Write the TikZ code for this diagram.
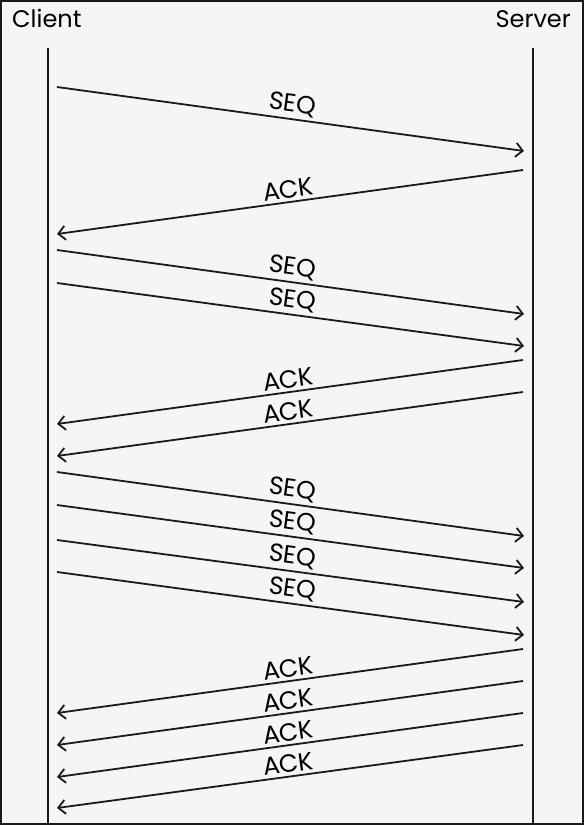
\documentclass[tikz,border=0pt]{standalone}
\usepackage{fontspec}
\setmainfont{Poppins}
\usetikzlibrary{arrows.meta}
\definecolor{paper}{HTML}{F5F5F5}
\definecolor{ink}{HTML}{1A1A1A}

\begin{document}
\begin{tikzpicture}[x=1pt, y=-1pt,
    lifeline/.style={draw=ink, line width=1.3pt},
    msg/.style={draw=ink, line width=1.8pt, -{Straight Barb[length=7pt, width=14pt]}},
    msglabel/.style={above, sloped, midway, inner sep=3pt, font=\fontsize{25}{28}\selectfont}]
    \draw[fill=paper, draw=ink, line width=2pt] (1,1) rectangle (583,824);
    \useasboundingbox (0,0) rectangle (584,825);

    \node[anchor=base west, inner sep=0pt, font=\fontsize{24}{28}\selectfont] (client) at (12,27) {Client};
    \node[anchor=base east, inner sep=0pt, font=\fontsize{24}{28}\selectfont] (server) at (571,27) {Server};

    \coordinate (ctop) at (48,48);
    \coordinate (cbot) at (48,825);
    \coordinate (stop) at (533,48);
    \coordinate (sbot) at (533,825);
    \draw[lifeline] (ctop) -- (cbot);
    \draw[lifeline] (stop) -- (sbot);

    % one segment
    \coordinate (c1) at (57,87);   \coordinate (s1) at (524,151);
    \coordinate (s2) at (523,170); \coordinate (c2) at (57,234);
    \draw[msg] (c1) -- node[msglabel] {SEQ} (s1);
    \draw[msg] (s2) -- node[msglabel] {ACK} (c2);

    % two segments
    \coordinate (c3) at (57,250);  \coordinate (s3) at (524,314);
    \coordinate (c4) at (57,283);  \coordinate (s4) at (524,346);
    \coordinate (s5) at (523,360); \coordinate (c5) at (57,424);
    \coordinate (s6) at (523,392); \coordinate (c6) at (57,456);
    \draw[msg] (c3) -- node[msglabel] {SEQ} (s3);
    \draw[msg] (c4) -- node[msglabel] {SEQ} (s4);
    \draw[msg] (s5) -- node[msglabel] {ACK} (c5);
    \draw[msg] (s6) -- node[msglabel] {ACK} (c6);

    % four segments
    \coordinate (c7) at (57,472);   \coordinate (s7) at (524,536);
    \coordinate (c8) at (57,505);   \coordinate (s8) at (524,568);
    \coordinate (c9) at (57,540);   \coordinate (s9) at (524,602);
    \coordinate (c10) at (57,572);  \coordinate (s10) at (524,635);
    \coordinate (s11) at (523,649); \coordinate (c11) at (57,713);
    \coordinate (s12) at (523,681); \coordinate (c12) at (57,745);
    \coordinate (s13) at (523,713); \coordinate (c13) at (57,777);
    \coordinate (s14) at (523,745); \coordinate (c14) at (57,808);
    \draw[msg] (c7) -- node[msglabel] {SEQ} (s7);
    \draw[msg] (c8) -- node[msglabel] {SEQ} (s8);
    \draw[msg] (c9) -- node[msglabel] {SEQ} (s9);
    \draw[msg] (c10) -- node[msglabel] {SEQ} (s10);
    \draw[msg] (s11) -- node[msglabel] {ACK} (c11);
    \draw[msg] (s12) -- node[msglabel] {ACK} (c12);
    \draw[msg] (s13) -- node[msglabel] {ACK} (c13);
    \draw[msg] (s14) -- node[msglabel] {ACK} (c14);
\end{tikzpicture}
\end{document}
